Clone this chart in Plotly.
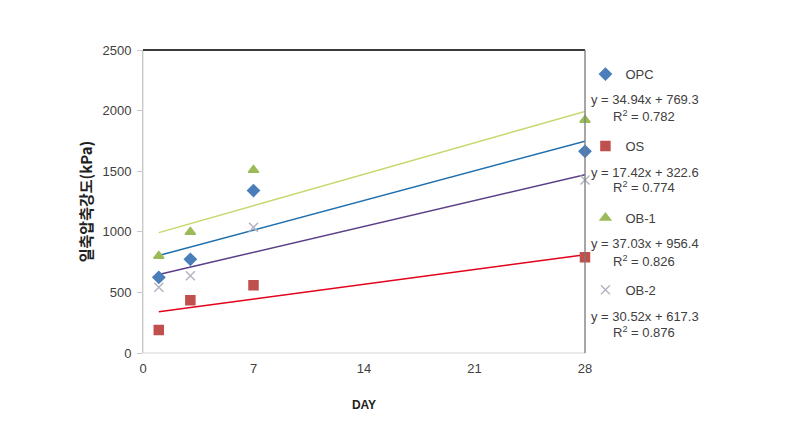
import plotly.graph_objects as go

days = [1, 3, 7, 28]
series_names = ["OPC", "OS", "OB-1", "OB-2"]
opc = [624, 773, 1340, 1664]
os_ = [190, 435, 558, 790]
ob1 = [800, 998, 1510, 1922]
ob2 = [542, 638, 1037, 1427]
slopes = [34.94, 17.42, 37.03, 30.52]
intercepts = [769.3, 322.6, 956.4, 617.3]
r2 = [0.782, 0.774, 0.826, 0.876]
x_ticks = [0, 7, 14, 21, 28]
y_ticks = [0, 500, 1000, 1500, 2000, 2500]

values = [opc, os_, ob1, ob2]
marker_colors = ["#4a7ebb", "#c0504d", "#9bbb59", "#b4b4c4"]
marker_symbols = ["diamond", "square", "triangle-up", "x-thin-open"]
marker_sizes = [9, 9, 9, 9]
trend_colors = ["#1f6fad", "#e3001b", "#c4d86a", "#5a3f86"]

fig = go.Figure()
for i in range(4):
    xs = [days[0], days[-1]]
    ys = [slopes[i] * x + intercepts[i] for x in xs]
    fig.add_trace(go.Scatter(x=xs, y=ys, mode="lines", showlegend=False,
                             line=dict(color=trend_colors[i], width=1.5),
                             hoverinfo="skip"))
for i in range(4):
    fig.add_trace(go.Scatter(
        x=days, y=values[i], mode="markers", name=series_names[i],
        legendgroup=series_names[i],
        marker=dict(symbol=marker_symbols[i], color=marker_colors[i], size=marker_sizes[i],
                    line=dict(color=marker_colors[i], width=1.5)),
        cliponaxis=False))

font_fam = "Liberation Sans, Noto Sans, sans-serif"
fig.update_layout(
    width=794, height=422,
    margin=dict(l=135, r=217, t=42, b=77),
    paper_bgcolor="white", plot_bgcolor="white",
    font=dict(family=font_fam, size=13, color="#404040"),
    xaxis=dict(range=[0, 28], tickvals=x_ticks, showgrid=False, zeroline=False,
               showline=False, ticks="", ticklabelstandoff=6,
               tickfont=dict(size=13),
               title=dict(text="<b>DAY</b>", font=dict(size=12, color="#222222",
                          family="Liberation Sans, sans-serif"), standoff=25)),
    yaxis=dict(range=[0, 2500], tickvals=y_ticks, showgrid=False, zeroline=False,
               showline=True, linecolor="#c8c8c8", linewidth=1,
               ticks="outside", ticklen=5, tickcolor="#c8c8c8",
               tickfont=dict(size=13), ticklabelstandoff=3,
               title=dict(text="<b>일축압축강도(kPa)</b>",
                          font=dict(size=15, color="#222222",
                                    family="Noto Sans CJK KR, sans-serif"), standoff=6)),
    legend=dict(x=1.001, y=0.97, xanchor="left", yanchor="top",
                tracegroupgap=52, font=dict(size=13, color="#404040"),
                bgcolor="rgba(0,0,0,0)", itemwidth=30),
    showlegend=True,
)
fig.add_shape(type="rect", xref="paper", yref="paper", x0=0, y0=0, x1=1, y1=1,
              line=dict(color="#d4d4d4", width=1), layer="below")
fig.add_shape(type="line", xref="paper", yref="paper", x0=0, y0=1, x1=1, y1=1,
              line=dict(color="#000000", width=1.5))
fig.add_shape(type="line", xref="paper", yref="paper", x0=1, y0=0, x1=1, y1=1,
              line=dict(color="#7a7a7a", width=1.2))

eq_y = [0.835, 0.597, 0.360, 0.122]
r_y = [0.782, 0.548, 0.304, 0.069]
for i in range(4):
    fig.add_annotation(xref="paper", yref="paper", x=1.136, y=eq_y[i],
                       text=f"y = {slopes[i]:.2f}x + {intercepts[i]:.1f}",
                       showarrow=False, xanchor="center", yanchor="middle",
                       font=dict(size=13, color="#404040"))
    fig.add_annotation(xref="paper", yref="paper", x=1.133, y=r_y[i],
                       text=f"R<sup>2</sup> = {r2[i]:.3f}",
                       showarrow=False, xanchor="center", yanchor="middle",
                       font=dict(size=13, color="#404040"))

fig.write_html("out.html")
